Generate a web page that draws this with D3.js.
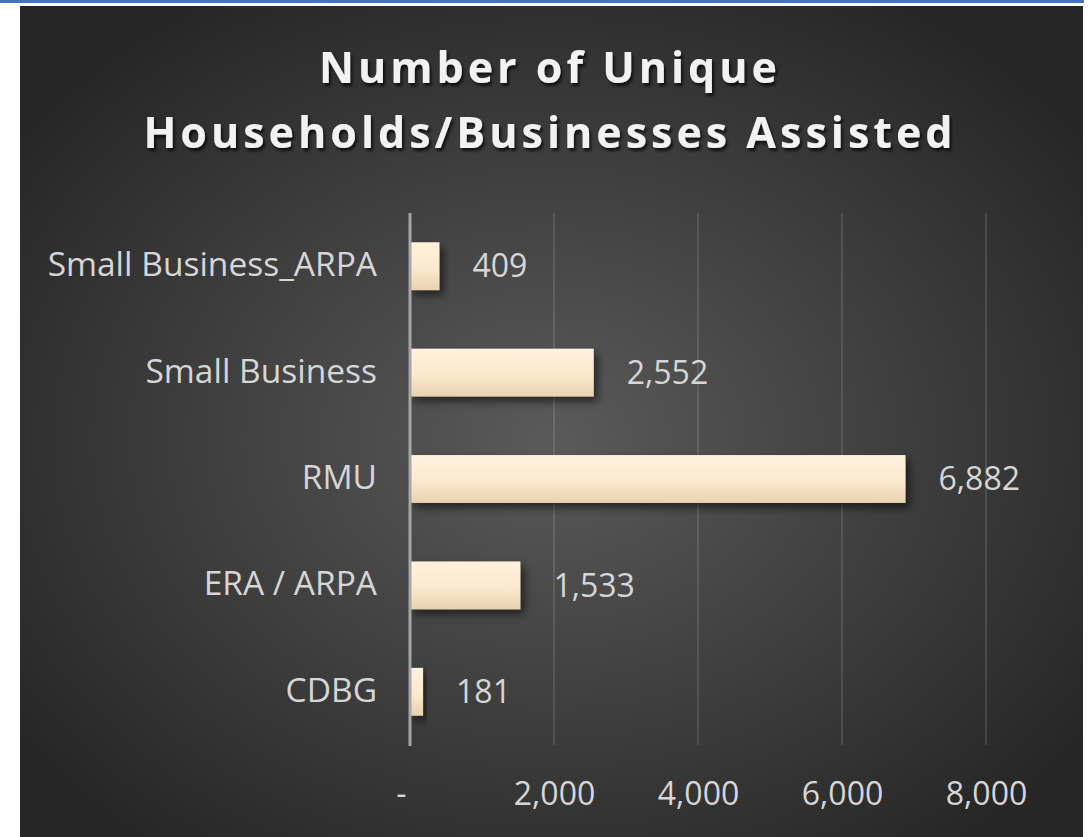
<!DOCTYPE html>
<html>
<head>
<meta charset="utf-8">
<title>Number of Unique Households/Businesses Assisted</title>
<style>
  body { margin: 0; background: #fff; }
  svg { display: block; }
</style>
</head>
<body>
<svg width="1091" height="837"></svg>
<script src="https://d3js.org/d3.v7.min.js"></script>
<script>
// chart values
var categories = ["Small Business_ARPA", "Small Business", "RMU", "ERA / ARPA", "CDBG"];
var values = [409, 2552, 6882, 1533, 181];
var tickValues = [0, 2000, 4000, 6000, 8000];
var tickLabels = ["-", "2,000", "4,000", "6,000", "8,000"];
var titleLines = ["Number of Unique", "Households/Businesses Assisted"];

var svg = d3.select("svg"),
    width = +svg.attr("width"),
    height = +svg.attr("height");

var defs = svg.append("defs");

// background radial gradient
var bg = defs.append("radialGradient")
    .attr("id", "bgGrad")
    .attr("cx", "50%").attr("cy", "52%").attr("r", "62%");
bg.append("stop").attr("offset", "0%").attr("stop-color", "#5a5a5a");
bg.append("stop").attr("offset", "100%").attr("stop-color", "#262626");

// bar fill
var barGrad = defs.append("linearGradient")
    .attr("id", "barGrad")
    .attr("x1", 0).attr("y1", 0).attr("x2", 0).attr("y2", 1);
barGrad.append("stop").attr("offset", "0%").attr("stop-color", "#fff1dc");
barGrad.append("stop").attr("offset", "55%").attr("stop-color", "#fbe9cf");
barGrad.append("stop").attr("offset", "100%").attr("stop-color", "#e7d2b0");

var shadow = defs.append("filter").attr("id", "barShadow")
    .attr("x", "-20%").attr("y", "-40%").attr("width", "150%").attr("height", "200%");
shadow.append("feDropShadow")
    .attr("dx", 4).attr("dy", 5).attr("stdDeviation", 4)
    .attr("flood-color", "#000").attr("flood-opacity", 0.55);

var tshadow = defs.append("filter").attr("id", "txtShadow")
    .attr("x", "-10%").attr("y", "-30%").attr("width", "120%").attr("height", "160%");
tshadow.append("feDropShadow")
    .attr("dx", 2).attr("dy", 3).attr("stdDeviation", 1.5)
    .attr("flood-color", "#000").attr("flood-opacity", 0.7);

// top blue stripe + chart area
svg.append("rect").attr("x", 0).attr("y", 0).attr("width", 1084).attr("height", 3).attr("fill", "#4472c4");
svg.append("rect").attr("x", 20).attr("y", 6).attr("width", 1063).attr("height", height - 6)
    .attr("fill", "url(#bgGrad)");

var x = d3.scaleLinear().domain([0, 8000]).range([410, 986]);
var y = d3.scaleBand().domain(categories).range([213, 745])
    .paddingInner(0.55).paddingOuter(0.275);

var font = "'Open Sans', 'DejaVu Sans', sans-serif";
var labelColor = "#d6d6d6";

// gridlines
svg.append("g").selectAll("line")
  .data(tickValues.slice(1))
  .enter().append("line")
    .attr("x1", function(d) { return x(d); })
    .attr("x2", function(d) { return x(d); })
    .attr("y1", 213).attr("y2", 745)
    .attr("stroke", "#d9d9d9").attr("stroke-opacity", 0.14)
    .attr("stroke-width", 2);

// x tick labels
var xAxis = d3.axisBottom(x).tickValues(tickValues).tickSize(0).tickPadding(0)
    .tickFormat(function(d, i) { return tickLabels[i]; });
var gx = svg.append("g").attr("transform", "translate(0,783)").call(xAxis);
gx.select(".domain").remove();
gx.selectAll("text")
    .attr("dy", 0).attr("y", 22)
    .attr("fill", labelColor)
    .style("font-family", font).style("font-size", "32px");
gx.selectAll(".tick").filter(function(d) { return d === 0; }).select("text").attr("dx", -9);

// bars
svg.append("g").selectAll("rect")
  .data(values)
  .enter().append("rect")
    .attr("x", x(0))
    .attr("y", function(d, i) { return y(categories[i]); })
    .attr("width", function(d) { return x(d) - x(0); })
    .attr("height", y.bandwidth())
    .attr("fill", "url(#barGrad)")
    .attr("filter", "url(#barShadow)");

// category axis
var yAxis = d3.axisLeft(y).tickSize(0).tickPadding(33);
var gy = svg.append("g").attr("transform", "translate(" + x(0) + ",0)").call(yAxis);
gy.select(".domain")
    .attr("d", "M0,213V746")
    .attr("stroke", "#a6a6a6").attr("stroke-width", 3);
gy.selectAll("text")
    .attr("dy", "0.3em")
    .attr("fill", labelColor)
    .style("font-family", font).style("font-size", "33.5px");

// value labels
svg.append("g").selectAll("text")
  .data(values)
  .enter().append("text")
    .attr("x", function(d) { return x(d) + 33; })
    .attr("y", function(d, i) { return y(categories[i]) + y.bandwidth() / 2; })
    .attr("dy", "0.35em")
    .attr("fill", labelColor)
    .style("font-family", font).style("font-size", "32px")
    .text(function(d) { return d3.format(",")(d); });

// title
svg.append("g").selectAll("text")
  .data(titleLines)
  .enter().append("text")
    .attr("x", 550)
    .attr("y", function(d, i) { return 83 + i * 65; })
    .attr("text-anchor", "middle")
    .attr("fill", "#f2f2f2")
    .attr("filter", "url(#txtShadow)")
    .style("font-family", font).style("font-size", "43px").style("font-weight", "bold")
    .style("letter-spacing", "4px")
    .text(function(d) { return d; });
</script>
</body>
</html>
